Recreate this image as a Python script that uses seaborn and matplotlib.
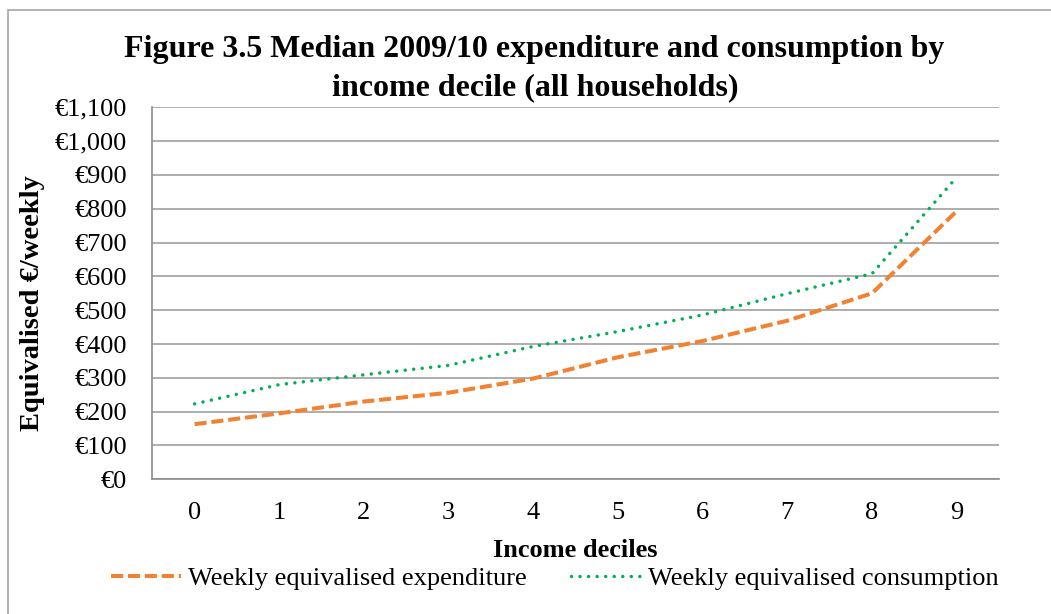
import matplotlib
matplotlib.use("Agg")
import matplotlib.pyplot as plt
import seaborn as sns
import pandas as pd
import numpy as np
from matplotlib.patches import Rectangle
from matplotlib.ticker import FuncFormatter, FixedLocator

deciles = [0, 1, 2, 3, 4, 5, 6, 7, 8, 9]
expenditure = [163, 195, 230, 256, 298, 361, 409, 469, 550, 793]
consumption = [223, 280, 309, 337, 393, 437, 486, 549, 608, 893]
series_names = ["Weekly equivalised expenditure", "Weekly equivalised consumption"]
yticks = list(range(0, 1101, 100))

sns.set_theme(style="white")
plt.rcParams['font.family'] = ['Liberation Serif', 'DejaVu Serif']
plt.rcParams['text.color'] = 'black'
plt.rcParams['axes.labelcolor'] = 'black'
plt.rcParams['xtick.color'] = 'black'
plt.rcParams['ytick.color'] = 'black'

df = pd.DataFrame({
    "decile": deciles * 2,
    "value": expenditure + consumption,
    "series": [series_names[0]] * len(deciles) + [series_names[1]] * len(deciles),
})

fig = plt.figure(figsize=(10.51, 6.14), dpi=100)
W, H = 1051, 614
ax = fig.add_axes([152.3 / W, 1 - 479.3 / H, (999 - 152.3) / W, (479.3 - 107.3) / H])

# figure border (left and top visible, right/bottom run off the image)
fig.patches.append(Rectangle((8 / W, -10 / H), (1100 - 8) / W, (604 + 10) / H,
                             transform=fig.transFigure, fill=False,
                             edgecolor="#a6a6a6", linewidth=1.2))

colors = {series_names[0]: "#F08232", series_names[1]: "#00B050"}
sub = df[df.series == series_names[0]]
sns.lineplot(data=sub, x="decile", y="value", ax=ax, color=colors[series_names[0]],
             linewidth=2.9, label=series_names[0], legend=False)
ax.lines[-1].set_dashes([3.0, 1.2])
sub = df[df.series == series_names[1]]
sns.lineplot(data=sub, x="decile", y="value", ax=ax, color=colors[series_names[1]],
             linewidth=2.5, label=series_names[1], legend=False)
ax.lines[-1].set_dashes([0.01, 2.45])
ax.lines[-1].set_dash_capstyle("round")

ax.set_xlim(-0.5, 9.5)
ax.set_ylim(0, 1100)
ax.set_yticks(yticks)
ax.yaxis.set_major_formatter(FuncFormatter(lambda v, p: "€{:,.0f}".format(v)))
ax.set_xticks(deciles)
ax.set_xticklabels([str(d) for d in deciles])
ax.xaxis.set_minor_locator(FixedLocator(np.arange(-0.5, 10, 1)))
ax.tick_params(axis="x", which="major", length=0, pad=16, labelsize=19)
ax.tick_params(axis="x", which="minor", length=7, width=1.2, color="#8c8c8c", direction="out")
ax.tick_params(axis="y", which="major", length=7, width=1.2, color="#8c8c8c", direction="out",
               labelsize=19, pad=11)
ax.yaxis.grid(True, color="#a0a0a0", linewidth=1.2)
ax.set_axisbelow(True)
for s in ["top", "right"]:
    ax.spines[s].set_visible(False)
for s in ["left", "bottom"]:
    ax.spines[s].set_color("#8c8c8c")
    ax.spines[s].set_linewidth(1.2)

ax.set_xlabel("Income deciles", fontsize=19, fontweight="bold", labelpad=11)
ax.set_ylabel("")
fig.text(33 / W, 1 - 303 / H, "Equivalised €/weekly", rotation=90, ha="center", va="center",
         fontsize=20.5, fontweight="bold")

fig.text(534 / W, 1 - 50 / H, "Figure 3.5 Median 2009/10 expenditure and consumption by",
         ha="center", va="center", fontsize=23, fontweight="bold")
fig.text(535 / W, 1 - 88 / H, "income decile (all households)",
         ha="center", va="center", fontsize=23, fontweight="bold")

leg = fig.legend(handles=ax.lines, labels=series_names, loc="center", ncol=2,
                 bbox_to_anchor=(555 / W, 1 - 578 / H), frameon=False, fontsize=19,
                 handlelength=2.65, columnspacing=1.7, handletextpad=0.25)

fig.savefig("out.png", dpi=100, facecolor="white")
